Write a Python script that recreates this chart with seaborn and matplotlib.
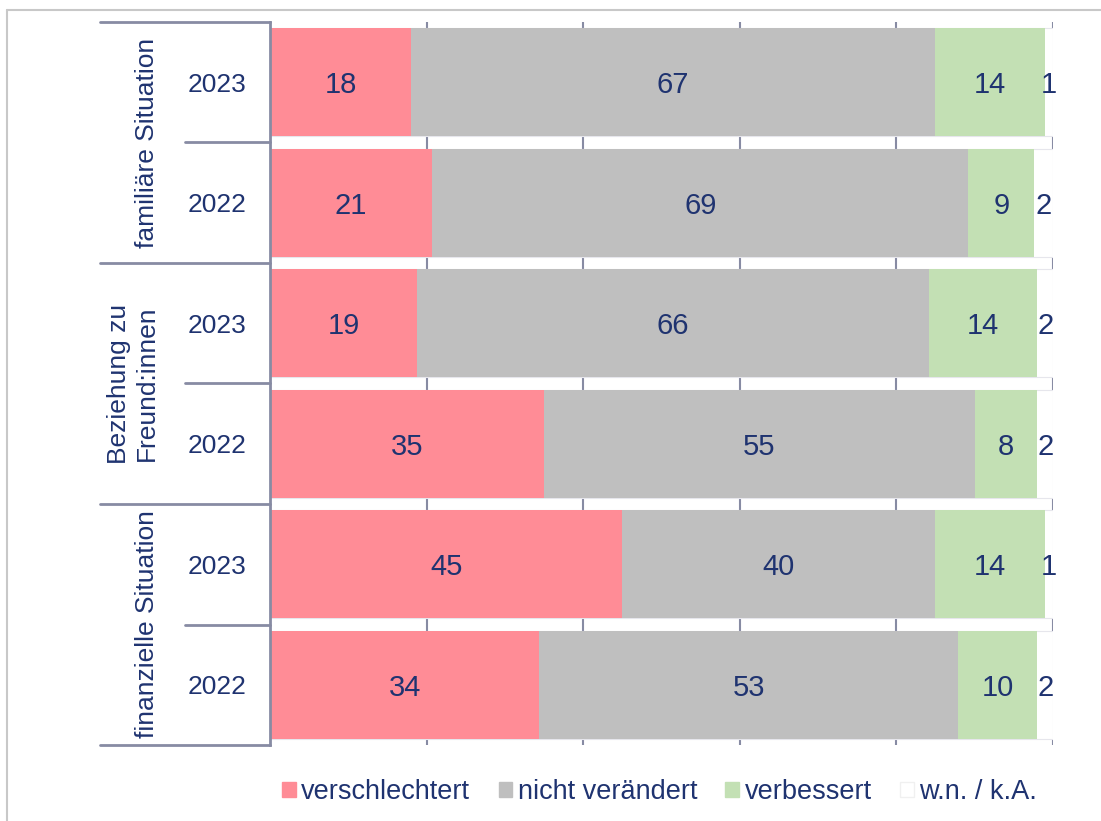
import numpy as np
import pandas as pd
import matplotlib.pyplot as plt
import matplotlib.transforms as mtransforms
from matplotlib.patches import Patch
from matplotlib.lines import Line2D
import seaborn as sns

# Daten ===========================================
groups = ['familiäre Situation', 'Beziehung zu\nFreund:innen', 'finanzielle Situation']
years = ['2023', '2022']
categories = ['verschlechtert', 'nicht verändert', 'verbessert', 'w.n. / k.A.']
# Balkenlängen
verschlechtert = [18.0, 20.7, 18.8, 35.0, 45.0, 34.4]
nicht_veraendert = [66.9, 68.5, 65.4, 55.0, 39.9, 53.5]
verbessert = [14.1, 8.4, 13.8, 8.0, 14.1, 10.1]
wn_ka = [1.0, 2.4, 2.0, 2.0, 1.0, 2.0]
# Beschriftungen (gerundet)
lab_verschlechtert = [18, 21, 19, 35, 45, 34]
lab_nicht_veraendert = [67, 69, 66, 55, 40, 53]
lab_verbessert = [14, 9, 14, 8, 14, 10]
lab_wn_ka = [1, 2, 2, 2, 1, 2]

colors = ['#FF8C96', '#BFBFBF', '#C3E0B4', '#FFFFFF']
navy = '#1F3370'
linecol = '#878BA3'

sns.set_theme(style='white')
plt.rcParams['font.family'] = ['Liberation Sans', 'DejaVu Sans']

rows = [g + ' ' + y for g in groups for y in years]
df = pd.DataFrame({'row': rows,
                   'v1': verschlechtert, 'v2': nicht_veraendert,
                   'v3': verbessert, 'v4': wn_ka})
vals = df[['v1', 'v2', 'v3', 'v4']].to_numpy()
labs = np.array([lab_verschlechtert, lab_nicht_veraendert, lab_verbessert, lab_wn_ka]).T
cum = vals.cumsum(axis=1)
for i in range(4):
    df['c%d' % (i + 1)] = cum[:, i]

fig = plt.figure(figsize=(11.01, 8.21), dpi=100)
ax = fig.add_axes([270 / 1101, 1 - 745 / 821, 783 / 1101, 723 / 821])

# Gitterlinien hinter den Balken
for xv in [20, 40, 60, 80, 100]:
    ax.axvline(xv, color=linecol, lw=1.5, zorder=0)

# gestapelte Balken: kumuliert, von hinten nach vorne
for i in [3, 2, 1, 0]:
    ec = '#E6E6EC' if i == 3 else 'none'
    sns.barplot(data=df, x='c%d' % (i + 1), y='row', orient='h', color=colors[i],
                saturation=1, width=0.9, errorbar=None, ax=ax,
                edgecolor=ec, linewidth=0.8, zorder=2)

# Werte in die Segmente
for r in range(len(rows)):
    left = 0
    for i in range(4):
        v = vals[r, i]
        ax.text(left + v / 2, r, str(labs[r, i]), ha='center', va='center_baseline',
                fontsize=21, color=navy, zorder=5, clip_on=False)
        left += v

ax.set_xlim(0, 100)
ax.set_ylim(len(rows) - 0.5, -0.5)
ax.set_xticks([])
ax.set_yticks([])
ax.set_xlabel('')
ax.set_ylabel('')
for s in ['top', 'right', 'bottom']:
    ax.spines[s].set_visible(False)
ax.spines['left'].set_color(linecol)
ax.spines['left'].set_linewidth(2)

# zweistufige Achsenbeschriftung links
trans = mtransforms.blended_transform_factory(ax.transAxes, ax.transData)
x_grp_line = (100 - 270) / 783
x_year_line = (185 - 270) / 783
grp_x = [147, 133, 147]
for k in range(len(groups) + 1):
    yb = 2 * k - 0.5
    ax.add_line(Line2D([x_grp_line, 0], [yb, yb], transform=trans, color=linecol,
                       lw=2, clip_on=False))
for k in range(len(groups)):
    ym = 2 * k + 0.5
    ax.add_line(Line2D([x_year_line, 0], [ym, ym], transform=trans, color=linecol,
                       lw=2, clip_on=False))
    ax.text((grp_x[k] - 270) / 783, ym, groups[k], transform=trans, rotation=90,
            ha='center', va='center', fontsize=19, color=navy,
            multialignment='center', linespacing=1.25)
for r in range(len(rows)):
    ax.text((217 - 270) / 783, r, years[r % 2], transform=trans,
            ha='center', va='center_baseline', fontsize=19, color=navy)

# Legende
handles = [Patch(facecolor=c, edgecolor='#F0F0F0' if c == '#FFFFFF' else c)
           for c in colors]
leg = fig.legend(handles, categories, loc='center', bbox_to_anchor=(0.599, 0.035),
                 ncol=4, frameon=False, fontsize=19.5, handlelength=0.5,
                 handleheight=0.5, handletextpad=0.2, columnspacing=1.05)
for t in leg.get_texts():
    t.set_color(navy)

# Rahmen
fig.add_artist(Line2D([7 / 1101, 1.0], [1 - 10 / 821, 1 - 10 / 821],
                      transform=fig.transFigure, color='#C8C8C8', lw=1.5))
fig.add_artist(Line2D([7 / 1101, 7 / 1101], [0, 1 - 10 / 821],
                      transform=fig.transFigure, color='#C8C8C8', lw=1.5))

fig.savefig('out.png', dpi=100, facecolor='white')
